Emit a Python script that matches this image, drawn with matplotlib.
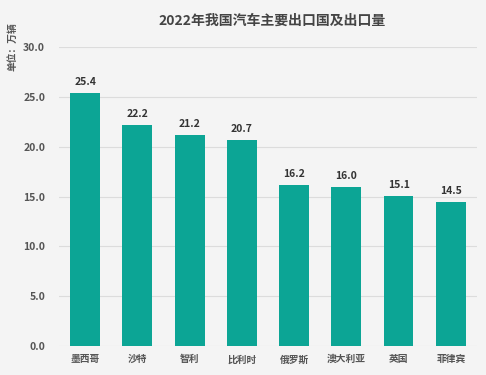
import numpy as np
import matplotlib
matplotlib.use('Agg')
import matplotlib.pyplot as plt

plt.rcParams['font.family'] = ['Noto Sans CJK SC', 'DejaVu Sans']

countries = ['墨西哥', '沙特', '智利', '比利时', '俄罗斯', '澳大利亚', '英国', '菲律宾']
exports = [25.4, 22.2, 21.2, 20.7, 16.2, 16.0, 15.1, 14.5]

fig = plt.figure(figsize=(4.86, 3.75), dpi=100)
fig.patch.set_facecolor('#f4f4f4')
ax = fig.add_axes([0.1214, 0.0773, 0.860, 0.7973])
ax.set_facecolor('#f4f4f4')

x = np.arange(len(countries))
ax.bar(x, exports, width=0.57, color='#0ca595', zorder=2)
for xi, v in zip(x, exports):
    ax.text(xi, v + 0.6, '%.1f' % v, ha='center', va='bottom',
            fontsize=7.5, fontweight='bold', color='#333333')

ax.set_xlim(-0.5, 7.5)
ax.set_ylim(0, 30)
ax.set_yticks(np.arange(0, 30.1, 5))
ax.set_yticklabels(['%.1f' % t for t in np.arange(0, 30.1, 5)])
ax.set_xticks(x)
ax.set_xticklabels(countries)
ax.grid(axis='y', color='#dcdcdc', linewidth=0.8, zorder=0)
for s in ax.spines.values():
    s.set_visible(False)
ax.tick_params(axis='both', length=0, colors='#555555', labelsize=7.5)
ax.tick_params(axis='x', labelsize=7, pad=6)
ax.tick_params(axis='y', pad=10)
for lab in ax.get_yticklabels() + ax.get_xticklabels():
    lab.set_fontweight('bold')

fig.text(0.56, 0.945, '2022年我国汽车主要出口国及出口量', ha='center', va='center',
         fontsize=10, fontweight='bold', color='#444444')
fig.text(0.025, 0.94, '单位：万辆', rotation=90, ha='center', va='top',
         fontsize=7, fontweight='bold', color='#555555')

fig.savefig('out.png', dpi=100, facecolor=fig.get_facecolor())
